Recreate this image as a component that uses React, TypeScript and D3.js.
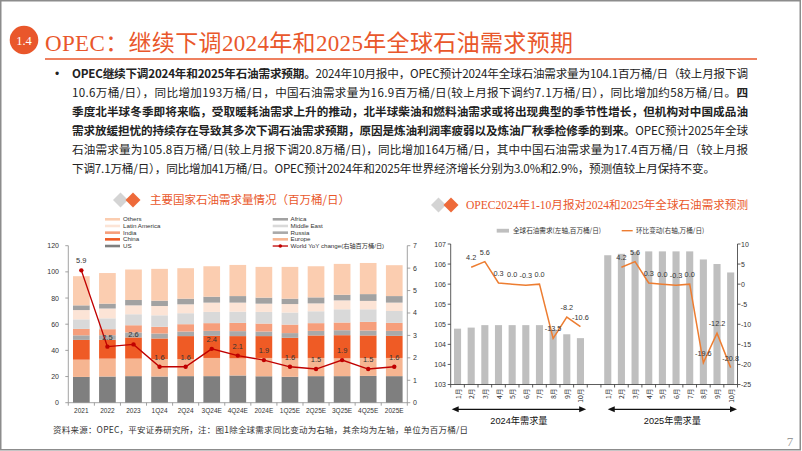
import React from "react";
import * as d3 from "d3";

// ---------- text content ----------
const sectionNo = "1.4";
const slideTitle = "OPEC：继续下调2024年和2025年全球石油需求预期";
const bulletLines: [string, boolean][][] = [
  [["OPEC继续下调2024年和2025年石油需求预期。", true], ["2024年10月报中，OPEC预计2024年全球石油需求量为104.1百万桶/日（较上月报下调", false]],
  [["10.6万桶/日），同比增加193万桶/日，中国石油需求量为16.9百万桶/日(较上月报下调约7.1万桶/日），同比增加约58万桶/日。", false], ["四", true]],
  [["季度北半球冬季即将来临，受取暖耗油需求上升的推动，北半球柴油和燃料油需求或将出现典型的季节性增长，但机构对中国成品油", true]],
  [["需求放缓担忧的持续存在导致其多次下调石油需求预期，原因是炼油利润率疲弱以及炼油厂秋季检修季的到来。", true], ["OPEC预计2025年全球", false]],
  [["石油需求量为105.8百万桶/日(较上月报下调20.8万桶/日)，同比增加164万桶/日，其中中国石油需求量为17.4百万桶/日（较上月报", false]],
  [["下调7.1万桶/日），同比增加41万桶/日。OPEC预计2024年和2025年世界经济增长分别为3.0%和2.9%，预测值较上月保持不变。", false]],
];
const leftChartTitle = "主要国家石油需求量情况（百万桶/日）";
const rightChartTitle = "OPEC2024年1-10月报对2024和2025年全球石油需求预测";
const footnote = "资料来源：OPEC，平安证券研究所，注：图1除全球需求同比变动为右轴，其余均为左轴，单位为百万桶/日";
const pageNumber = "7";

// ---------- left chart data ----------
const demandCategories = ["2021", "2022", "2023", "1Q24", "2Q24", "3Q24E", "4Q24E", "2024E", "1Q25E", "2Q25E", "3Q25E", "4Q25E", "2025E"];
const usDemand = [19.7, 20.0, 20.3, 20.0, 20.3, 20.3, 20.8, 20.2, 19.8, 20.3, 20.3, 20.5, 20.3];
const europeDemand = [13.2, 13.7, 13.4, 13.4, 13.1, 13.9, 13.1, 14.0, 14.1, 13.9, 13.6, 13.7, 13.9];
const chinaDemand = [15.1, 14.4, 16.2, 15.7, 17.5, 16.9, 17.0, 16.7, 15.7, 17.2, 17.7, 17.2, 16.9];
const russiaDemand = [3.5, 3.5, 3.8, 3.8, 3.5, 3.8, 3.8, 3.5, 3.6, 3.5, 3.8, 3.8, 3.8];
const indiaDemand = [4.9, 4.6, 5.5, 5.1, 5.6, 5.9, 6.3, 6.1, 6.5, 5.9, 5.9, 6.6, 6.1];
const middleEastDemand = [7.3, 8.3, 8.4, 8.8, 8.4, 8.6, 8.6, 8.9, 9.2, 9.1, 10.1, 9.6, 9.1];
const latinAmericaDemand = [7.1, 7.5, 6.8, 7.1, 6.8, 7.1, 6.9, 6.3, 6.5, 6.0, 6.8, 6.4, 6.4];
const africaDemand = [3.6, 3.7, 4.1, 4.1, 4.3, 4.5, 5.0, 4.6, 4.1, 4.6, 4.3, 5.2, 5.0];
const othersDemand = [22.3, 23.4, 23.3, 24.3, 23.3, 23.3, 23.8, 23.5, 24.3, 23.8, 23.6, 23.8, 23.6];
const worldYoY = [5.9, 2.5, 2.6, 1.6, 1.6, 2.4, 2.1, 1.9, 1.6, 1.5, 1.9, 1.5, 1.6];
const leftAxisTicks = [0, 20, 40, 60, 80, 100, 120];
const rightAxisTicks = [0, 1, 2, 3, 4, 5, 6, 7];
const worldLegendLabel = "World YoY change(右轴百万桶/日)";

// ---------- right chart data ----------
const months = ["1月", "2月", "3月", "4月", "5月", "6月", "7月", "8月", "9月", "10月"];
const globalDemand2024 = [104.59, 104.62, 104.69, 104.69, 104.69, 104.69, 104.69, 104.56, 104.43, 104.32];
const globalDemand2025 = [106.68, 106.72, 106.78, 106.79, 106.79, 106.79, 106.79, 106.56, 106.43, 106.19];
const momChange2024: (number | null)[] = [null, 4.2, 5.6, 0.3, 0.0, -0.3, 0.0, -13.5, -8.2, -10.6];
const momChange2025: (number | null)[] = [null, 4.2, 5.6, 0.3, 0.0, -0.3, 0.0, -19.6, -12.2, -20.8];
const demandLegend = "全球石油需求(左轴,百万桶/日)";
const momLegend = "环比变动(右轴,万桶/日)";
const group2024Label = "2024年需求量";
const group2025Label = "2025年需求量";
const momAxisTicks = [10, 5, 0, -5, -10, -15, -20, -25];

// ---------- styles ----------
const ORANGE = "#E9572B";
const CJK = "'Noto Sans CJK SC', sans-serif";
const SERIF = "'Liberation Serif', 'Noto Sans CJK SC', serif";
const SANS = "'Liberation Sans', Arial, 'Noto Sans CJK SC', sans-serif";
const TXT = "#333";

function Diamonds({ x, y }: { x: number; y: number }) {
  const d = 7.5;
  const pts = (cx: number) => `${cx},${y - d} ${cx + d},${y} ${cx},${y + d} ${cx - d},${y}`;
  return (
    <g>
      <polygon points={pts(x)} fill="#D4D4D4" />
      <polygon points={pts(x + 12.5)} fill="#EE6A3A" />
    </g>
  );
}

function LeftChart() {
  const x = d3.scaleBand<string>().domain(demandCategories).range([68.3, 407.3]).paddingInner(0.36).paddingOuter(0.18);
  const y = d3.scaleLinear().domain([0, 120]).range([402.7, 245.7]);
  const yr = d3.scaleLinear().domain([0, 7]).range([402.7, 245.7]);
  const series = [
    { key: "US", vals: usDemand, color: "#7F7F7F" },
    { key: "Europe", vals: europeDemand, color: "#F6B591" },
    { key: "China", vals: chinaDemand, color: "#EF5B25" },
    { key: "Russia", vals: russiaDemand, color: "#A9A9A9" },
    { key: "India", vals: indiaDemand, color: "#F69E7B" },
    { key: "Middle East", vals: middleEastDemand, color: "#D9D9D9" },
    { key: "Latin America", vals: latinAmericaDemand, color: "#FCE4D6" },
    { key: "Africa", vals: africaDemand, color: "#A2A2A2" },
    { key: "Others", vals: othersDemand, color: "#FBCDB0" },
  ];
  const table = demandCategories.map((c, i) => {
    const row: any = { cat: c };
    series.forEach((s) => (row[s.key] = s.vals[i]));
    return row;
  });
  const stacked = d3.stack<any>().keys(series.map((s) => s.key))(table);
  const bw = x.bandwidth();
  const cx = (c: string) => (x(c) as number) + bw / 2;
  const line = d3
    .line<number>()
    .x((_, i) => cx(demandCategories[i]))
    .y((v) => yr(v));
  const colorOf = (k: string) => series.find((s) => s.key === k)!.color;
  const legendLeft = ["Others", "Latin America", "India", "China", "US"];
  const legendRight = ["Africa", "Middle East", "Russia", "Europe"];
  const rowY = (i: number) => 219.3 + i * 6.68;
  const step = x.step();
  return (
    <g>
      <Diamonds x={120.5} y={200} />
      <text x={150} y={204.3} fontSize={11.5} fill={ORANGE} fontFamily={CJK} textLength={200} lengthAdjust="spacing">
        {leftChartTitle}
      </text>
      {/* legend */}
      {legendLeft.map((k, i) => (
        <g key={k}>
          <line x1={105} x2={120} y1={rowY(i)} y2={rowY(i)} stroke={colorOf(k)} strokeWidth={2.6} />
          <text x={123} y={rowY(i) + 2.1} fontSize={6.2} fill={TXT} fontFamily={SANS}>{k}</text>
        </g>
      ))}
      {legendRight.map((k, i) => (
        <g key={k}>
          <line x1={272.7} x2={288} y1={rowY(i)} y2={rowY(i)} stroke={colorOf(k)} strokeWidth={2.6} />
          <text x={290.5} y={rowY(i) + 2.1} fontSize={6.2} fill={TXT} fontFamily={SANS}>{k}</text>
        </g>
      ))}
      <g>
        <line x1={272.7} x2={288} y1={rowY(4)} y2={rowY(4)} stroke="#C00000" strokeWidth={1.3} />
        <circle cx={280.3} cy={rowY(4)} r={1.8} fill="#C00000" />
        <text x={290.5} y={rowY(4) + 2.1} fontSize={6.2} fill={TXT} fontFamily={SANS}>{worldLegendLabel}</text>
      </g>
      {/* bars */}
      {stacked.map((layer) => (
        <g key={layer.key} fill={colorOf(layer.key)}>
          {layer.map((d, i) => (
            <rect key={i} x={x(demandCategories[i])} width={bw} y={y(d[1])} height={y(d[0]) - y(d[1])} />
          ))}
        </g>
      ))}
      {/* axes */}
      <g stroke="#8C8C8C" strokeWidth={0.8}>
        <line x1={68.3} x2={68.3} y1={245.7} y2={402.7} />
        {leftAxisTicks.map((t) => (
          <line key={t} x1={65.3} x2={68.3} y1={y(t)} y2={y(t)} />
        ))}
        <line x1={407.3} x2={407.3} y1={245.7} y2={402.7} />
        {rightAxisTicks.map((t) => (
          <line key={t} x1={407.3} x2={410.3} y1={yr(t)} y2={yr(t)} />
        ))}
        <line x1={68.3} x2={407.3} y1={402.7} y2={402.7} />
        {d3.range(demandCategories.length + 1).map((i) => (
          <line key={i} x1={68.3 + i * step} x2={68.3 + i * step} y1={402.7} y2={405.7} />
        ))}
      </g>
      {leftAxisTicks.map((t) => (
        <text key={t} x={59} y={y(t) + 2.5} fontSize={7} fill={TXT} textAnchor="end" fontFamily={SANS}>{t}</text>
      ))}
      {rightAxisTicks.map((t) => (
        <text key={t} x={413} y={yr(t) + 2.5} fontSize={7} fill={TXT} fontFamily={SANS}>{t}</text>
      ))}
      {demandCategories.map((c) => (
        <text key={c} x={cx(c)} y={413} fontSize={6.5} fill={TXT} textAnchor="middle" fontFamily={SANS}>{c}</text>
      ))}
      {/* YoY line */}
      <path d={line(worldYoY) as string} fill="none" stroke="#C00000" strokeWidth={1.4} />
      {worldYoY.map((v, i) => (
        <g key={i}>
          <circle cx={cx(demandCategories[i])} cy={yr(v)} r={2.2} fill="#C00000" />
          <text x={cx(demandCategories[i])} y={yr(v) - 7} fontSize={7.5} fill={TXT} textAnchor="middle" fontFamily={SANS}>
            {v.toFixed(1)}
          </text>
        </g>
      ))}
    </g>
  );
}

function RightChart() {
  const slots = [...months.map((m) => "2024-" + m), "gap", ...months.map((m) => "2025-" + m)];
  const x = d3.scaleBand<string>().domain(slots).range([450.7, 737.5]).paddingInner(0.48).paddingOuter(0.24);
  const yD = d3.scaleLinear().domain([103, 107]).range([384.5, 244]);
  const yM = d3.scaleLinear().domain([-25, 10]).range([384.5, 244]);
  const bw = x.bandwidth();
  const step = x.step();
  const cx = (s: string) => (x(s) as number) + bw / 2;
  const demandTicks = d3.range(8).map((i) => 103 + (i * 4) / 7);
  const mkLine = (prefix: string) =>
    d3
      .line<number | null>()
      .defined((v) => v != null)
      .x((_, i) => cx(prefix + months[i]))
      .y((v) => yM(v as number));
  const groups = [
    { prefix: "2024-", demand: globalDemand2024, mom: momChange2024 },
    { prefix: "2025-", demand: globalDemand2025, mom: momChange2025 },
  ];
  const arrowY = 409.3;
  const a24x1 = 450.7 + 1;
  const a24x2 = cx("2024-10月") + step * 0.42;
  const a25x1 = cx("2025-1月");
  const a25x2 = 737;
  return (
    <g>
      <Diamonds x={438.5} y={205} />
      <text x={466} y={209.3} fontSize={11.6} fill={ORANGE} fontFamily={SERIF} textLength={282} lengthAdjust="spacing">
        {rightChartTitle}
      </text>
      {/* legend */}
      <rect x={496.7} y={228.8} width={12.3} height={3.8} fill="#BFBFBF" />
      <text x={513} y={233} fontSize={6.6} fill={TXT} fontFamily={CJK}>{demandLegend}</text>
      <line x1={621.7} x2={632.7} y1={230.7} y2={230.7} stroke="#ED7D31" strokeWidth={1.4} />
      <text x={636} y={233} fontSize={6.6} fill={TXT} fontFamily={CJK}>{momLegend}</text>
      {/* bars */}
      {groups.map((g) =>
        g.demand.map((v, i) => (
          <rect key={g.prefix + i} x={x(g.prefix + months[i])} width={bw} y={yD(v)} height={384.5 - yD(v)} fill="#BFBFBF" />
        ))
      )}
      {/* lines */}
      {groups.map((g) => (
        <path key={g.prefix} d={mkLine(g.prefix)(g.mom) as string} fill="none" stroke="#ED7D31" strokeWidth={1.5} />
      ))}
      {groups.map((g) =>
        g.mom.map((v, i) =>
          v == null ? null : (
            <text key={g.prefix + "l" + i} x={cx(g.prefix + months[i])} y={yM(v) - 7} fontSize={7.3} fill={TXT} textAnchor="middle" fontFamily={SANS}>
              {v.toFixed(1)}
            </text>
          )
        )
      )}
      {/* axes */}
      <g stroke="#333" strokeWidth={0.8}>
        <line x1={450.7} x2={450.7} y1={244} y2={384.5} />
        {demandTicks.map((t, i) => (
          <line key={i} x1={447.7} x2={450.7} y1={yD(t)} y2={yD(t)} />
        ))}
        <line x1={737.5} x2={737.5} y1={244} y2={384.5} />
        {momAxisTicks.map((t) => (
          <line key={t} x1={737.5} x2={740.5} y1={yM(t)} y2={yM(t)} />
        ))}
        <line x1={450.7} x2={737.5} y1={384.5} y2={384.5} />
        {d3.range(slots.length + 1).map((i) => (
          <line key={i} x1={450.7 + i * step} x2={450.7 + i * step} y1={384.5} y2={387.5} />
        ))}
      </g>
      {demandTicks.map((t, i) => (
        <text key={i} x={446} y={yD(t) + 2.5} fontSize={7} fill={TXT} textAnchor="end" fontFamily={SANS}>
          {Math.round(t)}
        </text>
      ))}
      {momAxisTicks.map((t) => (
        <text key={t} x={741} y={yM(t) + 2.5} fontSize={7} fill={TXT} fontFamily={SANS}>{t}</text>
      ))}
      {groups.map((g) =>
        months.map((m) => (
          <text
            key={g.prefix + m}
            transform={`translate(${cx(g.prefix + m)},388.5) rotate(-90)`}
            fontSize={6.8}
            fill={TXT}
            textAnchor="end"
            dominantBaseline="central"
            fontFamily={CJK}
          >
            {m}
          </text>
        ))
      )}
      {/* group arrows */}
      <g stroke="#111" strokeWidth={1.3}>
        <line x1={a24x1 + 5} x2={a24x2 - 5} y1={arrowY} y2={arrowY} />
        <line x1={a25x1 + 5} x2={a25x2 - 5} y1={arrowY} y2={arrowY} />
      </g>
      <g fill="#111">
        <path d={`M${a24x1},${arrowY} l7,-3 v6 z`} />
        <path d={`M${a24x2},${arrowY} l-7,-3 v6 z`} />
        <path d={`M${a25x1},${arrowY} l7,-3 v6 z`} />
        <path d={`M${a25x2},${arrowY} l-7,-3 v6 z`} />
      </g>
      <text x={(a24x1 + a24x2) / 2} y={423.5} fontSize={9.2} fill="#111" textAnchor="middle" fontFamily={SANS}>{group2024Label}</text>
      <text x={(a25x1 + a25x2) / 2} y={423.5} fontSize={9.2} fill="#111" textAnchor="middle" fontFamily={SANS}>{group2025Label}</text>
    </g>
  );
}

export default function App() {
  const W = 802;
  const H = 451;
  return (
    <svg width={W} height={H} style={{ position: "absolute", left: 0, top: 0, display: "block", background: "#fff" }}>
      <rect x={0} y={0} width={W} height={H} fill="#fff" />
      <rect x={0.75} y={0.75} width={W - 2.5} height={H - 2} fill="none" stroke="#8C8C8C" strokeWidth={1.5} />
      {/* header */}
      <circle cx={24} cy={40} r={14.3} fill={ORANGE} />
      <text x={24} y={44.5} fontSize={12.5} fill="#fff" textAnchor="middle" fontFamily={SERIF}>{sectionNo}</text>
      <text x={45} y={50.5} fontSize={23} fill={ORANGE} fontFamily={SERIF} textLength={528} lengthAdjust="spacing">
        {slideTitle}
      </text>
      <line x1={45} x2={757} y1={59} y2={59} stroke={ORANGE} strokeWidth={1.6} />
      {/* bullet paragraph */}
      <text x={55} y={78} fontSize={12} fill="#222" fontFamily={SANS}>•</text>
      {bulletLines.map((segs, i) => (
        <text
          key={i}
          x={72}
          y={78 + i * 19}
          fontSize={11.6}
          fill="#222"
          fontFamily={CJK}
          textLength={i < bulletLines.length - 1 ? 676 : 643}
          lengthAdjust="spacing"
        >
          {segs.map(([t, b], j) => (
            <tspan key={j} fontWeight={b ? 700 : 400}>{t}</tspan>
          ))}
        </text>
      ))}
      <LeftChart />
      <RightChart />
      {/* footer */}
      <text x={53} y={433} fontSize={8.5} fill={TXT} fontFamily={CJK} textLength={415} lengthAdjust="spacing">
        {footnote}
      </text>
      <text x={790} y={446} fontSize={13} fill="#9A9A9A" textAnchor="middle" fontFamily={SERIF}>{pageNumber}</text>
    </svg>
  );
}
